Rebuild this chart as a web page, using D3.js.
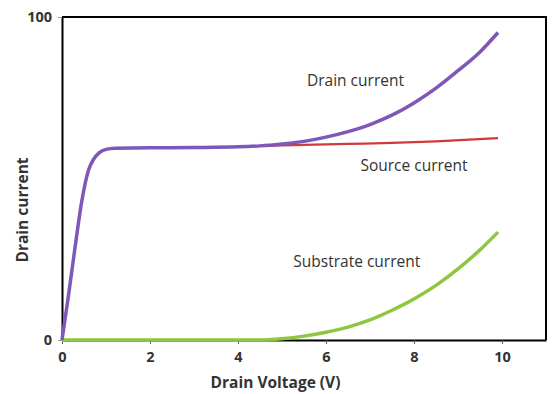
<!DOCTYPE html>
<html>
<head>
<meta charset="utf-8">
<script src="https://cdn.jsdelivr.net/npm/d3@7"></script>
<style>
body { margin: 0; background: #fff; }
</style>
</head>
<body>
<svg width="555" height="394"></svg>
<script>
var svg = d3.select('svg');

// data
var xTicks = [0, 2, 4, 6, 8, 10];
var yTicks = [0, 100];

var drainV = [0, 0.15, 0.3, 0.45, 0.6, 0.72, 0.85, 1.0, 1.2, 2, 3, 4, 4.5, 5, 5.5, 6, 6.5, 7, 7.5, 8, 8.5, 9, 9.5, 9.91];
var drainI = [0, 14, 29, 43, 52.5, 56, 58, 59, 59.4, 59.5, 59.6, 59.8, 60.1, 60.7, 61.5, 62.8, 64.5, 66.7, 69.6, 73.4, 78.0, 83.4, 89.2, 95.2];

var sourceV = [4.5, 5.5, 6.5, 7.5, 8.5, 9.91];
var sourceI = [60.1, 60.4, 60.7, 61.0, 61.5, 62.5];

var subV = [0, 1, 2, 3, 4, 4.5, 5, 5.5, 6, 6.5, 7, 7.5, 8, 8.5, 9, 9.5, 9.91];
var subI = [0, 0, 0, 0, 0, 0, 0.4, 1.2, 2.4, 4.0, 6.2, 9.2, 12.7, 16.9, 22.0, 27.9, 33.4];

var labels = [
    {text: 'Drain current', x: 6.67, y: 80},
    {text: 'Source current', x: 8.0, y: 53.6},
    {text: 'Substrate current', x: 6.7, y: 23.8}
];

var padL = 62, padT = 17, padR = 546, padB = 340;

var x = d3.scaleLinear().domain([0, 11]).range([padL, padR]);
var y = d3.scaleLinear().domain([0, 100]).range([padB, padT]);

function pts(xs, ys) {
    return xs.map(function(v, i){ return [v, ys[i]]; });
}

var line = d3.line()
    .x(function(d){ return x(d[0]); })
    .y(function(d){ return y(d[1]); })
    .curve(d3.curveMonotoneX);

// x axis
var xAxis = svg.append('g')
    .attr('transform', 'translate(0,' + padB + ')')
    .call(d3.axisBottom(x).tickValues(xTicks).tickSize(4).tickSizeOuter(0).tickPadding(8));
xAxis.select('.domain').attr('stroke', '#000').attr('stroke-width', 2);
xAxis.selectAll('.tick line').attr('stroke', '#555');
xAxis.selectAll('text')
    .attr('font-family', 'Open Sans, sans-serif')
    .attr('font-size', 14.5).attr('font-weight', 'bold').attr('fill', '#333');

// y axis
var yAxis = svg.append('g')
    .attr('transform', 'translate(' + padL + ',0)')
    .call(d3.axisLeft(y).tickValues(yTicks).tickSize(4).tickSizeOuter(0).tickPadding(6));
yAxis.select('.domain').attr('stroke', '#000').attr('stroke-width', 2);
yAxis.selectAll('.tick line').attr('stroke', '#999');
yAxis.selectAll('text')
    .attr('font-family', 'Open Sans, sans-serif')
    .attr('font-size', 14.5).attr('font-weight', 'bold').attr('fill', '#333');

// top and right border
svg.append('path')
    .attr('d', 'M' + x(0) + ',' + y(100) + 'H' + x(11) + 'V' + y(0))
    .attr('fill', 'none')
    .attr('stroke', '#000')
    .attr('stroke-width', 2);

// curves
svg.append('path')
    .datum(pts(subV, subI))
    .attr('d', line)
    .attr('fill', 'none')
    .attr('stroke', '#8dc63f')
    .attr('stroke-width', 3.5);

svg.append('path')
    .datum(pts(sourceV, sourceI))
    .attr('d', line)
    .attr('fill', 'none')
    .attr('stroke', '#d03a3a')
    .attr('stroke-width', 2.2);

svg.append('path')
    .datum(pts(drainV, drainI))
    .attr('d', line)
    .attr('fill', 'none')
    .attr('stroke', '#7e57b8')
    .attr('stroke-width', 3.5);

// curve labels
svg.selectAll('text.lbl')
    .data(labels).enter()
    .append('text')
    .attr('class', 'lbl')
    .attr('x', function(d){ return x(d.x); })
    .attr('y', function(d){ return y(d.y); })
    .attr('text-anchor', 'middle')
    .attr('dominant-baseline', 'middle')
    .attr('font-family', 'Open Sans, sans-serif')
    .attr('font-size', 15.5)
    .attr('fill', '#333')
    .text(function(d){ return d.text; });

// axis titles
svg.append('text')
    .attr('x', 275.5)
    .attr('y', 388)
    .attr('text-anchor', 'middle')
    .attr('font-family', 'Open Sans, sans-serif')
    .attr('font-size', 15.5)
    .attr('font-weight', 'bold')
    .attr('fill', '#333')
    .text('Drain Voltage (V)');

svg.append('text')
    .attr('transform', 'translate(28,' + 210 + ') rotate(-90)')
    .attr('text-anchor', 'middle')
    .attr('font-family', 'Open Sans, sans-serif')
    .attr('font-size', 15.5)
    .attr('font-weight', 'bold')
    .attr('fill', '#333')
    .text('Drain current');
</script>
</body>
</html>
